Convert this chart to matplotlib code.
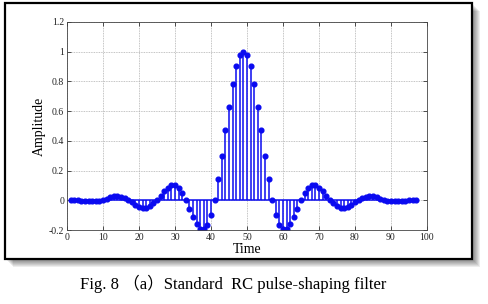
import matplotlib
matplotlib.use("Agg")
import matplotlib.pyplot as plt
from matplotlib.patches import Rectangle
import numpy as np

# Data (samples 1..97, symmetric pulse)
time = list(range(1, 98))
half = [0.003, 0.002, 0.0, -0.003, -0.005, -0.008, -0.008, -0.007, -0.003, 0.003,
        0.012, 0.02, 0.028, 0.03, 0.025, 0.015, 0.003, -0.012, -0.03, -0.045,
        -0.05, -0.05, -0.04, -0.02, 0.0, 0.03, 0.06, 0.085, 0.1, 0.1,
        0.083, 0.05, 0.0, -0.056, -0.11, -0.157, -0.19, -0.195, -0.163, -0.096,
        0.0, 0.14, 0.30, 0.47, 0.63, 0.78, 0.906, 0.975]
amplitude = half + [1.0] + half[::-1]
xticks = [0, 10, 20, 30, 40, 50, 60, 70, 80, 90, 100]
yticks = [-0.2, 0, 0.2, 0.4, 0.6, 0.8, 1, 1.2]
ytick_labels = ["-0.2", "0", "0.2", "0.4", "0.6", "0.8", "1", "1.2"]
caption = "Fig. 8 （a）Standard  RC pulse-shaping filter"

W, H = 488, 304
fig = plt.figure(figsize=(W / 100, H / 100), dpi=100)
fig.patch.set_facecolor("white")

# soft shadow + frame
for i in range(8):
    off = 8 - i
    fig.patches.append(Rectangle(((5 + off) / W, 1 - (259 + off) / H), 467 / W, 256 / H,
                                 transform=fig.transFigure, facecolor=(0, 0, 0, 0.07),
                                 edgecolor="none", zorder=0))
fig.patches.append(Rectangle((5 / W, 1 - 259 / H), 467 / W, 256 / H,
                             transform=fig.transFigure, facecolor="white",
                             edgecolor="black", linewidth=1.6, zorder=1))

ax = fig.add_axes([67 / W, 1 - 230 / H, (427 - 67) / W, (230 - 22) / H])
ax.set_zorder(2)
blue = "#0a0af0"
ml, sl, bl = ax.stem(time, amplitude, linefmt="-", markerfmt="o", basefmt="-")
plt.setp(sl, color=blue, linewidth=1.1)
plt.setp(ml, color=blue, markersize=3.4)
plt.setp(bl, color=blue, linewidth=1.1)

ax.set_xlim(0, 100)
ax.set_ylim(-0.2, 1.2)
ax.set_xticks(xticks)
ax.set_yticks(yticks)
ax.set_yticklabels(ytick_labels)
ax.grid(True, linestyle=(0, (1, 1)), color="#b0b0b0", linewidth=0.6)
ax.set_axisbelow(True)
ax.tick_params(direction="in", length=3, width=0.6, labelsize=7, pad=2,
               top=True, right=True, colors="#333333", labelcolor="#222222")
for lab in ax.get_xticklabels() + ax.get_yticklabels():
    lab.set_family("Liberation Serif")
for s in ax.spines.values():
    s.set_linewidth(0.6)
    s.set_color("#444444")
ax.set_xlabel("Time", family="Liberation Serif", fontsize=10, labelpad=1)
ax.set_ylabel("Amplitude", family="Liberation Serif", fontsize=10, labelpad=2)

fig.text(233 / W, 1 - 284 / H, caption, ha="center", va="center", fontsize=12,
         family=["Liberation Serif", "Noto Sans CJK SC"])

fig.savefig("out.png", dpi=100)
